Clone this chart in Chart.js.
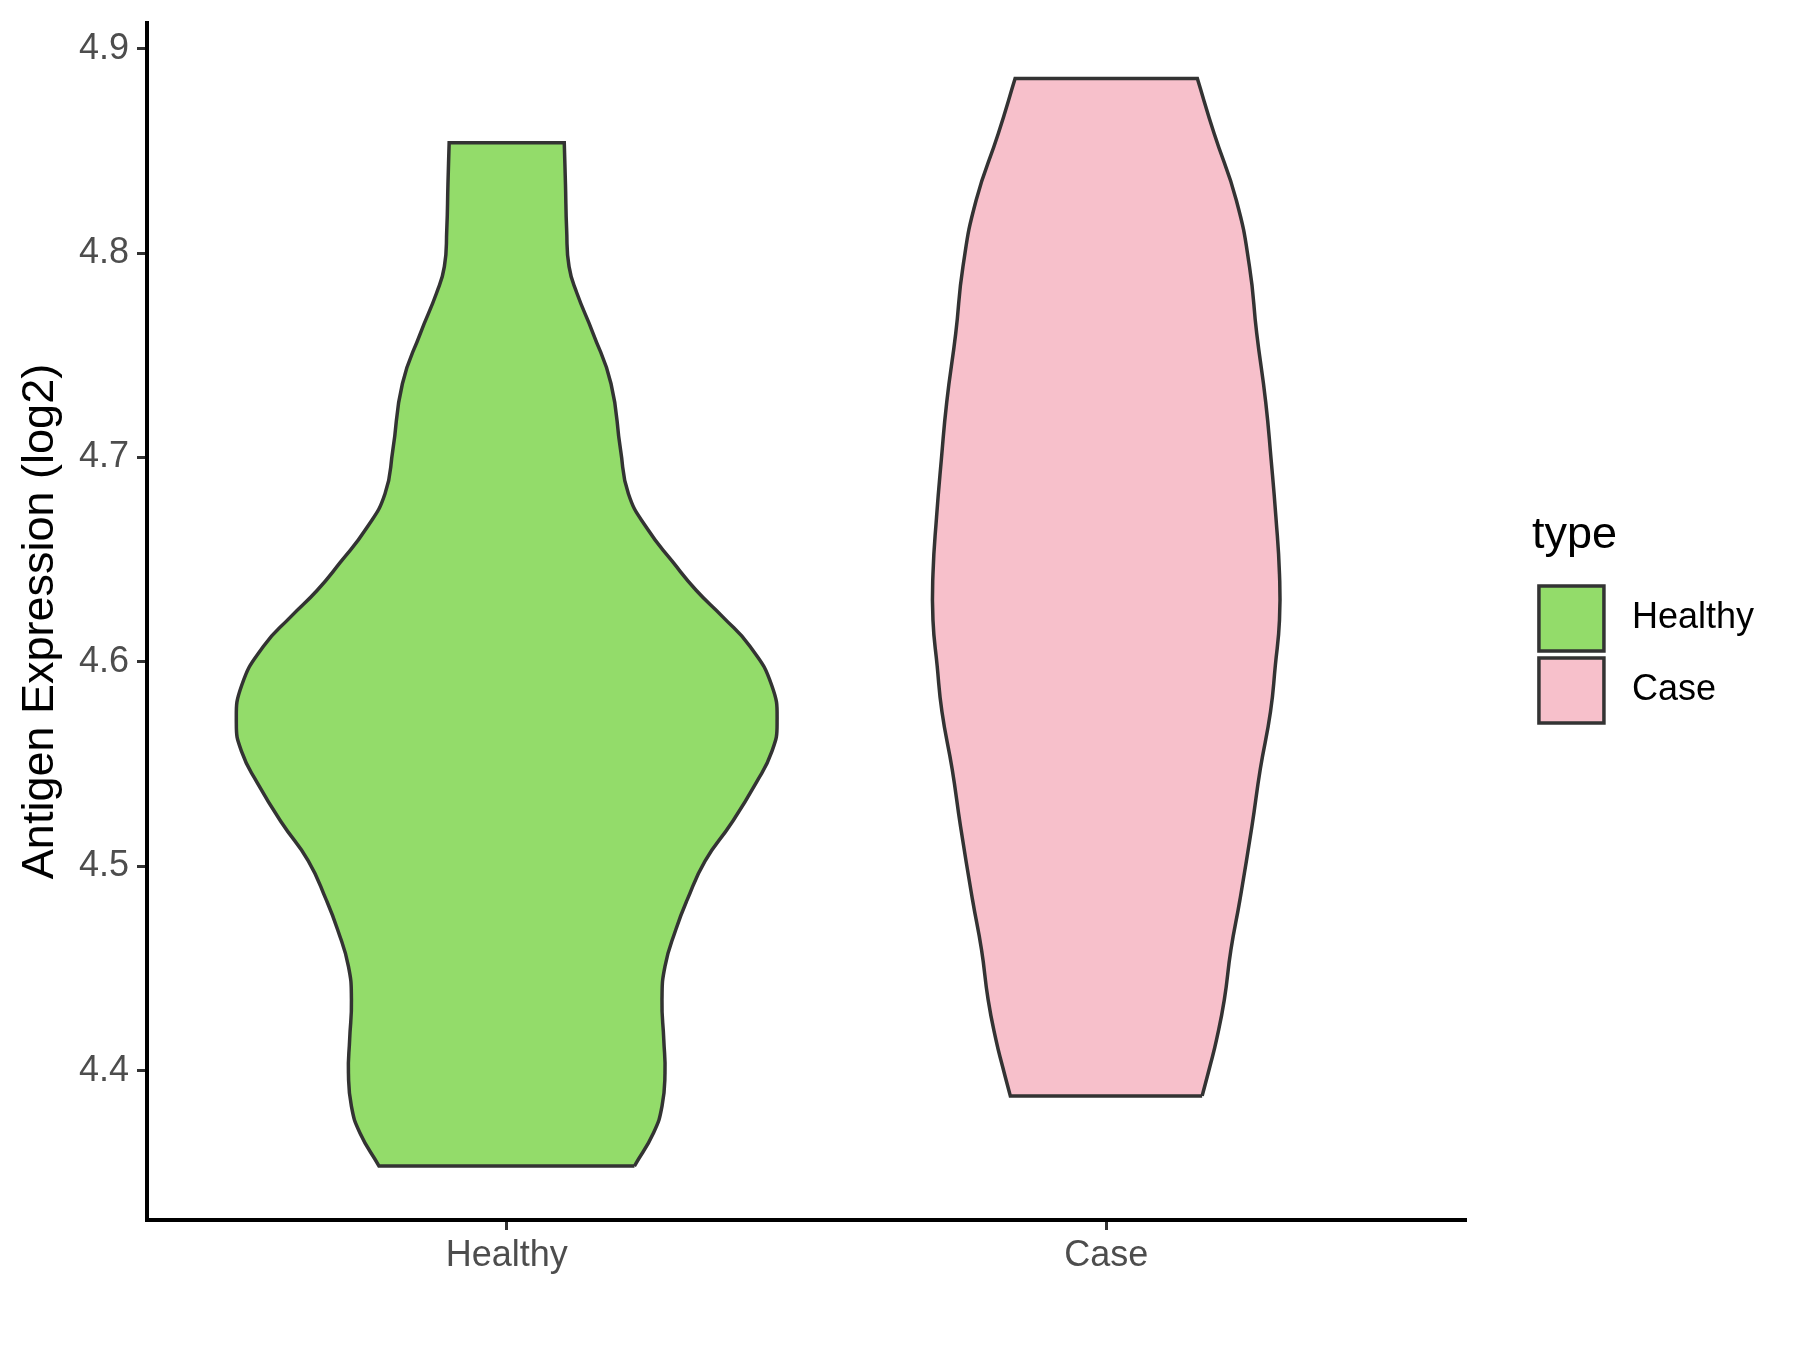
<!DOCTYPE html>
<html>
<head>
<meta charset="utf-8" />
<script src="https://cdn.jsdelivr.net/npm/chart.js"></script>
<style>
  html, body { margin: 0; padding: 0; background: #ffffff; }
  #wrap { width: 1800px; height: 1350px; position: relative; }
</style>
</head>
<body>
<div id="wrap"><canvas id="violinChart"></canvas></div>

<script>
  // categories and tick labels
  const categories = ['Healthy', 'Case'];
  const yTicks = [4.4, 4.5, 4.6, 4.7, 4.8, 4.9];

  // violin outlines: expression value and half width (in category units)
  const healthyValues = [4.3534, 4.3697, 4.3826, 4.3989, 4.4152, 4.4348, 4.4511, 4.4690, 4.4836, 4.5027,
    4.5212, 4.5409, 4.5560, 4.5700, 4.5886, 4.6076, 4.6222, 4.6351, 4.6486, 4.6654,
    4.6823, 4.7036, 4.7361, 4.7608, 4.7805, 4.7934, 4.8113, 4.8338, 4.8540];
  const healthyHalfWidth = [0.213, 0.245, 0.259, 0.264, 0.262, 0.259, 0.264, 0.282, 0.301, 0.331,
    0.375, 0.416, 0.442, 0.451, 0.442, 0.406, 0.360, 0.316, 0.278, 0.234,
    0.203, 0.190, 0.174, 0.144, 0.117, 0.104, 0.100, 0.098, 0.096];

  const caseValues = [4.3877, 4.4022, 4.4152, 4.4348, 4.4592, 4.4836, 4.5195, 4.5476, 4.5756, 4.5981,
    4.6205, 4.6430, 4.6710, 4.6991, 4.7272, 4.7608, 4.7934, 4.8259, 4.8585, 4.8854];
  const caseHalfWidth = [0.160, 0.173, 0.184, 0.197, 0.208, 0.223, 0.243, 0.257, 0.274, 0.282,
    0.289, 0.289, 0.283, 0.275, 0.266, 0.251, 0.239, 0.217, 0.180, 0.152];

  const fillColors = ['#93DC6A', '#F7C0CB'];

  // closed outline: up the right side, down the left side, back to start.
  // corner points are doubled so the curve keeps sharp corners there
  function violinOutline(center, values, half) {
    const pts = [];
    const n = values.length;
    for (let i = 0; i < n; i++) pts.push({ x: center + half[i], y: values[i] });
    pts.push({ x: center + half[n - 1], y: values[n - 1] });
    pts.push({ x: center - half[n - 1], y: values[n - 1] });
    for (let i = n - 1; i >= 0; i--) pts.push({ x: center - half[i], y: values[i] });
    pts.push({ x: center - half[0], y: values[0] });
    pts.push({ x: center + half[0], y: values[0] });
    return pts;
  }

  const FONT = '"Liberation Sans", Arial, sans-serif';

  function violinDataset(i, values, half) {
    return {
      label: categories[i],
      data: violinOutline(i + 1, values, half),
      backgroundColor: fillColors[i],
      borderColor: '#333333',
      borderWidth: 3.5,
      borderJoinStyle: 'miter',
      fill: 'shape',
      tension: 0.5,
      pointRadius: 0,
      xAxisID: 'x',
      yAxisID: 'y'
    };
  }

  new Chart(document.getElementById('violinChart').getContext('2d'), {
    type: 'line',
    data: {
      datasets: [
        violinDataset(0, healthyValues, healthyHalfWidth),
        violinDataset(1, caseValues, caseHalfWidth)
      ]
    },
    options: {
      responsive: true,
      maintainAspectRatio: false,
      devicePixelRatio: 1,
      animation: false,
      layout: { padding: { top: 23, left: 0, right: 36, bottom: 0 } },
      plugins: {
        tooltip: { enabled: false },
        legend: {
          position: 'right',
          align: 'center',
          fullSize: false,
          title: {
            display: true,
            text: 'type',
            position: 'start',
            color: '#000000',
            font: { family: FONT, size: 45 },
            padding: { top: 0, bottom: 12 }
          },
          labels: {
            boxWidth: 65,
            boxHeight: 65,
            padding: 7,
            color: '#000000',
            font: { family: FONT, size: 36 },
            generateLabels: (chart) => Chart.defaults.plugins.legend.labels.generateLabels(chart)
              .map((item) => Object.assign(item, { text: ' ' + item.text, lineWidth: 3.5 }))
          }
        }
      },
      scales: {
        x: {
          type: 'linear',
          min: 0.4,
          max: 2.6,
          afterBuildTicks: (s) => { s.ticks = categories.map((c, i) => ({ value: i + 1 })); },
          afterFit: (s) => { s.height = 130; s.paddingLeft = 0; s.paddingRight = 0; },
          ticks: {
            color: '#4D4D4D',
            padding: 4,
            font: { family: FONT, size: 36 },
            callback: (v) => categories[v - 1]
          },
          grid: { drawOnChartArea: false, drawTicks: true, tickLength: 10, color: '#333333', lineWidth: 3 },
          border: { display: true, color: '#000000', width: 4 }
        },
        y: {
          type: 'linear',
          position: 'left',
          min: 4.327,
          max: 4.9126,
          afterBuildTicks: (s) => { s.ticks = yTicks.map((v) => ({ value: v })); },
          afterFit: (s) => { s.width = 147; s.paddingTop = 0; s.paddingBottom = 0; },
          title: {
            display: true,
            text: 'Antigen Expression (log2)',
            color: '#000000',
            font: { family: FONT, size: 45 },
            padding: { top: 14, bottom: 0 }
          },
          ticks: {
            color: '#4D4D4D',
            padding: 8,
            font: { family: FONT, size: 36 },
            callback: (v) => Number(v).toFixed(1)
          },
          grid: { drawOnChartArea: false, drawTicks: true, tickLength: 10, color: '#333333', lineWidth: 3 },
          border: { display: true, color: '#000000', width: 4 }
        },
        // empty axis that only keeps the gap between the panel and the legend
        gap: {
          type: 'linear',
          position: 'right',
          display: true,
          afterFit: (s) => { s.width = 66; },
          ticks: { display: false },
          grid: { display: false },
          border: { display: false }
        }
      }
    }
  });
</script>
</body>
</html>
